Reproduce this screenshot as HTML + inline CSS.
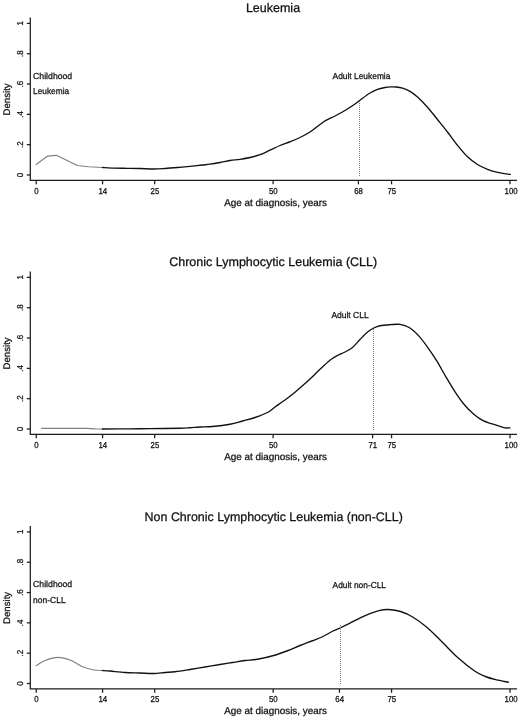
<!DOCTYPE html>
<html><head><meta charset="utf-8"><title>Leukemia density</title>
<style>
html,body{margin:0;padding:0;background:#fff;}
body{width:520px;height:718px;overflow:hidden;}
svg{display:block;will-change:transform;}
text{font-family:"Liberation Sans",sans-serif;fill:#111;stroke:#111;stroke-width:0.26px;text-rendering:geometricPrecision;}
.t{font-size:12.5px;text-anchor:middle;}
.xl{font-size:10px;text-anchor:middle;}
.tk{font-size:8.6px;text-anchor:middle;}
.an{font-size:8.7px;}
.ax{stroke:#1c1c1c;stroke-width:1.25;fill:none;}
.tc{stroke:#1c1c1c;stroke-width:1.25;fill:none;}
.cv{stroke:#111;stroke-width:1.35;fill:none;stroke-linejoin:round;stroke-linecap:round;}
.cg{stroke:#808080;stroke-width:1.2;fill:none;stroke-linejoin:round;stroke-linecap:round;}
.dt{stroke:#7c7c7c;stroke-width:1;stroke-dasharray:1 1;shape-rendering:crispEdges;fill:none;}
</style></head><body>
<svg width="520" height="718" viewBox="0 0 520 718">

<g transform="translate(0,0.00)">
<text class="t" x="273.00" y="12.10">Leukemia</text>
<path class="ax" d="M30.3,17.6 V180.4 H517"/>
<path class="tc" d="M26.8,175.00 H30.3"/>
<text class="tk" transform="translate(22.9,175.00) rotate(-90) scale(0.93,1)">0</text>
<path class="tc" d="M26.8,144.68 H30.3"/>
<text class="tk" transform="translate(22.9,144.68) rotate(-90) scale(0.93,1)">.2</text>
<path class="tc" d="M26.8,114.36 H30.3"/>
<text class="tk" transform="translate(22.9,114.36) rotate(-90) scale(0.93,1)">.4</text>
<path class="tc" d="M26.8,84.04 H30.3"/>
<text class="tk" transform="translate(22.9,84.04) rotate(-90) scale(0.93,1)">.6</text>
<path class="tc" d="M26.8,53.72 H30.3"/>
<text class="tk" transform="translate(22.9,53.72) rotate(-90) scale(0.93,1)">.8</text>
<path class="tc" d="M26.8,23.40 H30.3"/>
<text class="tk" transform="translate(22.9,23.40) rotate(-90) scale(0.93,1)">1</text>
<text class="xl" style="font-size:9.6px" transform="translate(9.75,99.4) rotate(-90)">Density</text>
<path class="tc" d="M36.25,180.4 V184.3"/>
<text class="tk" transform="translate(36.45,193.7) scale(0.91,1)">0</text>
<path class="tc" d="M102.58,180.4 V184.3"/>
<text class="tk" transform="translate(102.78,193.7) scale(0.91,1)">14</text>
<path class="tc" d="M154.69,180.4 V184.3"/>
<text class="tk" transform="translate(154.89,193.7) scale(0.91,1)">25</text>
<path class="tc" d="M273.12,180.4 V184.3"/>
<text class="tk" transform="translate(273.32,193.7) scale(0.91,1)">50</text>
<path class="tc" d="M358.40,180.4 V184.3"/>
<text class="tk" transform="translate(358.60,193.7) scale(0.91,1)">68</text>
<path class="tc" d="M391.56,180.4 V184.3"/>
<text class="tk" transform="translate(391.76,193.7) scale(0.91,1)">75</text>
<path class="tc" d="M510.00,180.4 V184.3"/>
<text class="tk" transform="translate(511.10,193.7) scale(0.91,1)">100</text>
<text class="xl" style="font-size:9.9px" x="275.6" y="206.30">Age at diagnosis, years</text>
</g>
<path class="cg" d="M36.25,164.40 L47.30,156.20 L56.40,155.30 L77.30,165.50 L88.75,166.75 L102.50,167.50"/>
<path class="cv" d="M102.50,167.50 C104.58,167.62 110.83,168.07 115.00,168.20 C119.17,168.33 123.33,168.25 127.50,168.30 C131.67,168.35 135.62,168.38 140.00,168.50 C144.38,168.62 149.58,169.00 153.75,169.00 C157.92,169.00 161.04,168.75 165.00,168.50 C168.96,168.25 173.33,167.87 177.50,167.50 C181.67,167.13 185.83,166.72 190.00,166.30 C194.17,165.88 199.17,165.35 202.50,165.00 C205.83,164.65 207.08,164.62 210.00,164.20 C212.92,163.78 216.67,163.12 220.00,162.50 C223.33,161.88 226.67,161.03 230.00,160.50 C233.33,159.97 236.67,159.80 240.00,159.30 C243.33,158.80 246.67,158.27 250.00,157.50 C253.33,156.73 256.67,155.92 260.00,154.70 C263.33,153.48 266.67,151.73 270.00,150.20 C273.33,148.67 276.67,146.91 280.00,145.50 C283.33,144.09 286.67,143.08 290.00,141.75 C293.33,140.42 296.67,139.12 300.00,137.50 C303.33,135.88 306.67,134.17 310.00,132.00 C313.33,129.83 317.42,126.38 320.00,124.50 C322.58,122.62 323.00,122.12 325.50,120.70 C328.00,119.28 331.75,117.70 335.00,116.00 C338.25,114.30 341.67,112.50 345.00,110.50 C348.33,108.50 352.50,105.72 355.00,104.00 C357.50,102.28 357.50,102.03 360.00,100.20 C362.50,98.37 367.08,94.80 370.00,93.00 C372.92,91.20 375.00,90.32 377.50,89.40 C380.00,88.48 382.75,87.92 385.00,87.50 C387.25,87.08 389.17,86.98 391.00,86.90 C392.83,86.82 394.08,86.78 396.00,87.00 C397.92,87.22 400.17,87.47 402.50,88.20 C404.83,88.93 407.50,89.93 410.00,91.40 C412.50,92.87 414.58,94.37 417.50,97.00 C420.42,99.63 424.17,103.45 427.50,107.20 C430.83,110.95 434.17,115.37 437.50,119.50 C440.83,123.63 444.17,127.70 447.50,132.00 C450.83,136.30 454.17,141.17 457.50,145.30 C460.83,149.43 464.17,153.60 467.50,156.80 C470.83,160.00 474.17,162.42 477.50,164.50 C480.83,166.58 484.17,167.98 487.50,169.30 C490.83,170.62 493.70,171.55 497.50,172.40 C501.30,173.25 508.17,174.07 510.30,174.40"/>
<path class="dt" d="M359.50,100.50 V175.50"/>
<text class="an" x="332.60" y="79.10" textLength="57.8" lengthAdjust="spacingAndGlyphs">Adult Leukemia</text>
<text class="an" x="33.1" y="78.80" textLength="39.1" lengthAdjust="spacingAndGlyphs">Childhood</text>
<text class="an" x="33.1" y="94.00" textLength="36.0" lengthAdjust="spacingAndGlyphs">Leukemia</text>
<g transform="translate(0,254.00)">
<text class="t" x="273.20" y="12.10">Chronic Lymphocytic Leukemia (CLL)</text>
<path class="ax" d="M30.3,17.6 V180.4 H517"/>
<path class="tc" d="M26.8,175.00 H30.3"/>
<text class="tk" transform="translate(22.9,175.00) rotate(-90) scale(0.93,1)">0</text>
<path class="tc" d="M26.8,144.68 H30.3"/>
<text class="tk" transform="translate(22.9,144.68) rotate(-90) scale(0.93,1)">.2</text>
<path class="tc" d="M26.8,114.36 H30.3"/>
<text class="tk" transform="translate(22.9,114.36) rotate(-90) scale(0.93,1)">.4</text>
<path class="tc" d="M26.8,84.04 H30.3"/>
<text class="tk" transform="translate(22.9,84.04) rotate(-90) scale(0.93,1)">.6</text>
<path class="tc" d="M26.8,53.72 H30.3"/>
<text class="tk" transform="translate(22.9,53.72) rotate(-90) scale(0.93,1)">.8</text>
<path class="tc" d="M26.8,23.40 H30.3"/>
<text class="tk" transform="translate(22.9,23.40) rotate(-90) scale(0.93,1)">1</text>
<text class="xl" style="font-size:9.6px" transform="translate(9.75,99.4) rotate(-90)">Density</text>
<path class="tc" d="M36.25,180.4 V184.3"/>
<text class="tk" transform="translate(36.45,193.7) scale(0.91,1)">0</text>
<path class="tc" d="M102.58,180.4 V184.3"/>
<text class="tk" transform="translate(102.78,193.7) scale(0.91,1)">14</text>
<path class="tc" d="M154.69,180.4 V184.3"/>
<text class="tk" transform="translate(154.89,193.7) scale(0.91,1)">25</text>
<path class="tc" d="M273.12,180.4 V184.3"/>
<text class="tk" transform="translate(273.32,193.7) scale(0.91,1)">50</text>
<path class="tc" d="M372.61,180.4 V184.3"/>
<text class="tk" transform="translate(372.81,193.7) scale(0.91,1)">71</text>
<path class="tc" d="M391.56,180.4 V184.3"/>
<text class="tk" transform="translate(391.76,193.7) scale(0.91,1)">75</text>
<path class="tc" d="M510.00,180.4 V184.3"/>
<text class="tk" transform="translate(511.10,193.7) scale(0.91,1)">100</text>
<text class="xl" style="font-size:9.9px" x="275.6" y="206.30">Age at diagnosis, years</text>
</g>
<path class="cg" d="M41.60,428.45 L87.00,428.45 L95.00,428.90 L102.50,429.00"/>
<path class="cv" d="M102.50,429.00 C107.08,428.97 122.08,428.87 130.00,428.80 C137.92,428.73 141.67,428.69 150.00,428.60 C158.33,428.51 173.33,428.39 180.00,428.25 C186.67,428.11 186.67,427.96 190.00,427.75 C193.33,427.54 196.25,427.21 200.00,427.00 C203.75,426.79 207.50,426.96 212.50,426.50 C217.50,426.04 225.00,425.17 230.00,424.25 C235.00,423.33 238.33,422.12 242.50,421.00 C246.67,419.88 250.83,418.92 255.00,417.50 C259.17,416.08 264.17,414.25 267.50,412.50 C270.83,410.75 272.08,409.08 275.00,407.00 C277.92,404.92 281.67,402.47 285.00,400.00 C288.33,397.53 291.67,394.93 295.00,392.20 C298.33,389.47 301.67,386.60 305.00,383.60 C308.33,380.60 312.50,376.60 315.00,374.20 C317.50,371.80 317.50,371.53 320.00,369.20 C322.50,366.87 327.08,362.48 330.00,360.20 C332.92,357.92 335.00,356.87 337.50,355.50 C340.00,354.13 342.50,353.33 345.00,352.00 C347.50,350.67 350.00,349.58 352.50,347.50 C355.00,345.42 357.50,342.08 360.00,339.50 C362.50,336.92 365.21,333.92 367.50,332.00 C369.79,330.08 371.67,329.04 373.75,328.00 C375.83,326.96 377.29,326.30 380.00,325.75 C382.71,325.20 386.67,324.93 390.00,324.70 C393.33,324.47 396.80,323.93 400.00,324.40 C403.20,324.87 406.12,325.63 409.20,327.50 C412.28,329.37 415.42,332.30 418.50,335.60 C421.58,338.90 424.63,343.03 427.70,347.30 C430.77,351.57 433.82,356.20 436.90,361.20 C439.98,366.20 443.12,372.12 446.20,377.30 C449.28,382.48 452.33,387.68 455.40,392.30 C458.47,396.92 461.53,401.35 464.60,405.00 C467.67,408.65 470.72,411.58 473.80,414.20 C476.88,416.82 480.02,419.08 483.10,420.70 C486.18,422.32 489.23,422.87 492.30,423.90 C495.37,424.93 499.38,426.23 501.50,426.90 C503.62,427.57 503.58,427.73 505.00,427.90 C506.42,428.07 509.17,427.90 510.00,427.90"/>
<path class="dt" d="M373.50,329.00 V429.50"/>
<text class="an" x="331.40" y="318.40" textLength="37.2" lengthAdjust="spacingAndGlyphs">Adult CLL</text>
<g transform="translate(0,508.50)">
<text class="t" x="273.70" y="12.25" textLength="258.2" lengthAdjust="spacingAndGlyphs">Non Chronic Lymphocytic Leukemia (non-CLL)</text>
<path class="ax" d="M30.3,17.6 V180.4 H517"/>
<path class="tc" d="M26.8,175.00 H30.3"/>
<text class="tk" transform="translate(22.9,175.00) rotate(-90) scale(0.93,1)">0</text>
<path class="tc" d="M26.8,144.68 H30.3"/>
<text class="tk" transform="translate(22.9,144.68) rotate(-90) scale(0.93,1)">.2</text>
<path class="tc" d="M26.8,114.36 H30.3"/>
<text class="tk" transform="translate(22.9,114.36) rotate(-90) scale(0.93,1)">.4</text>
<path class="tc" d="M26.8,84.04 H30.3"/>
<text class="tk" transform="translate(22.9,84.04) rotate(-90) scale(0.93,1)">.6</text>
<path class="tc" d="M26.8,53.72 H30.3"/>
<text class="tk" transform="translate(22.9,53.72) rotate(-90) scale(0.93,1)">.8</text>
<path class="tc" d="M26.8,23.40 H30.3"/>
<text class="tk" transform="translate(22.9,23.40) rotate(-90) scale(0.93,1)">1</text>
<text class="xl" style="font-size:9.6px" transform="translate(9.75,99.4) rotate(-90)">Density</text>
<path class="tc" d="M36.25,180.4 V184.3"/>
<text class="tk" transform="translate(36.45,193.7) scale(0.91,1)">0</text>
<path class="tc" d="M102.58,180.4 V184.3"/>
<text class="tk" transform="translate(102.78,193.7) scale(0.91,1)">14</text>
<path class="tc" d="M154.69,180.4 V184.3"/>
<text class="tk" transform="translate(154.89,193.7) scale(0.91,1)">25</text>
<path class="tc" d="M273.12,180.4 V184.3"/>
<text class="tk" transform="translate(273.32,193.7) scale(0.91,1)">50</text>
<path class="tc" d="M339.45,180.4 V184.3"/>
<text class="tk" transform="translate(339.65,193.7) scale(0.91,1)">64</text>
<path class="tc" d="M391.56,180.4 V184.3"/>
<text class="tk" transform="translate(391.76,193.7) scale(0.91,1)">75</text>
<path class="tc" d="M510.00,180.4 V184.3"/>
<text class="tk" transform="translate(511.10,193.7) scale(0.91,1)">100</text>
<text class="xl" style="font-size:9.9px" x="275.6" y="205.60">Age at diagnosis, years</text>
</g>
<path class="cg" d="M36.25,665.50 C37.71,664.67 42.08,661.78 45.00,660.50 C47.92,659.22 50.83,658.25 53.75,657.80 C56.67,657.35 59.58,657.35 62.50,657.80 C65.42,658.25 67.92,659.01 71.25,660.50 C74.58,661.99 78.75,665.17 82.50,666.75 C86.25,668.33 90.42,669.38 93.75,670.00 C97.08,670.62 101.04,670.42 102.50,670.50"/>
<path class="cv" d="M102.50,670.50 C103.75,670.58 106.25,670.67 110.00,671.00 C113.75,671.33 120.00,672.17 125.00,672.50 C130.00,672.83 135.21,672.83 140.00,673.00 C144.79,673.17 149.58,673.58 153.75,673.50 C157.92,673.42 161.46,672.79 165.00,672.50 C168.54,672.21 170.83,672.25 175.00,671.75 C179.17,671.25 185.00,670.29 190.00,669.50 C195.00,668.71 200.00,667.83 205.00,667.00 C210.00,666.17 215.42,665.25 220.00,664.50 C224.58,663.75 228.33,663.17 232.50,662.50 C236.67,661.83 240.83,661.04 245.00,660.50 C249.17,659.96 252.71,660.08 257.50,659.25 C262.29,658.42 268.75,656.92 273.75,655.50 C278.75,654.08 283.12,652.42 287.50,650.75 C291.88,649.08 295.83,647.17 300.00,645.50 C304.17,643.83 308.75,642.21 312.50,640.75 C316.25,639.29 319.17,638.33 322.50,636.75 C325.83,635.17 329.46,632.76 332.50,631.25 C335.54,629.74 337.77,629.09 340.75,627.70 C343.73,626.31 347.06,624.57 350.40,622.90 C353.74,621.23 357.33,619.32 360.80,617.70 C364.27,616.08 368.03,614.43 371.20,613.20 C374.37,611.97 376.92,610.92 379.80,610.30 C382.68,609.68 385.03,609.30 388.50,609.50 C391.97,609.70 396.57,610.25 400.60,611.50 C404.63,612.75 408.38,614.42 412.70,617.00 C417.02,619.58 421.88,623.13 426.50,627.00 C431.12,630.87 435.20,635.12 440.40,640.20 C445.60,645.28 451.93,652.32 457.70,657.50 C463.47,662.68 470.38,668.13 475.00,671.30 C479.62,674.47 481.93,675.10 485.40,676.50 C488.87,677.90 491.95,678.75 495.80,679.70 C499.65,680.65 506.38,681.78 508.50,682.20"/>
<path class="dt" d="M340.50,625.00 V683.50"/>
<text class="an" x="332.60" y="588.30" textLength="53.4" lengthAdjust="spacingAndGlyphs">Adult non-CLL</text>
<text class="an" x="33.1" y="587.10" textLength="39.1" lengthAdjust="spacingAndGlyphs">Childhood</text>
<text class="an" x="33.1" y="602.95" textLength="32.5" lengthAdjust="spacingAndGlyphs">non-CLL</text>
</svg></body></html>
